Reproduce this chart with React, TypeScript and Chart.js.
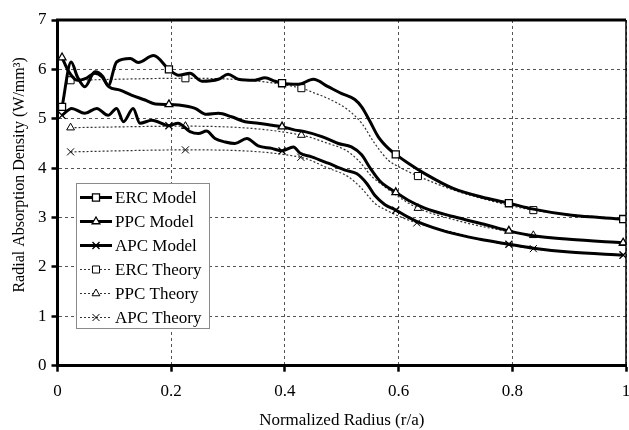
import React, { useEffect, useRef } from "react";
import { Chart, registerables } from "chart.js";

Chart.register(...registerables);

// ---------- data ----------
const ercModelX = [0.008, 0.024, 0.035, 0.048, 0.066, 0.08, 0.089, 0.104, 0.128, 0.142, 0.169, 0.196, 0.213, 0.233, 0.254, 0.283, 0.3, 0.318, 0.347, 0.365, 0.383, 0.395, 0.424, 0.45, 0.476, 0.5, 0.523, 0.535, 0.55, 0.564, 0.582, 0.595, 0.617, 0.646, 0.696, 0.755, 0.794, 0.837, 0.901, 0.995];
const ercModelY = [5.24, 6.15, 5.85, 5.65, 5.95, 5.85, 5.67, 6.15, 6.22, 6.14, 6.28, 6.0, 5.88, 5.92, 5.76, 5.8, 5.9, 5.8, 5.78, 5.83, 5.76, 5.72, 5.7, 5.8, 5.65, 5.51, 5.39, 5.24, 4.94, 4.64, 4.4, 4.28, 4.1, 3.89, 3.59, 3.39, 3.29, 3.17, 3.05, 2.97];

const ppcModelX = [0.008, 0.02, 0.035, 0.05, 0.066, 0.078, 0.09, 0.11, 0.13, 0.154, 0.172, 0.196, 0.212, 0.242, 0.262, 0.283, 0.306, 0.33, 0.353, 0.377, 0.395, 0.418, 0.435, 0.465, 0.494, 0.517, 0.535, 0.55, 0.567, 0.595, 0.617, 0.646, 0.696, 0.755, 0.794, 0.837, 0.9, 0.995];
const ppcModelY = [6.24, 5.95, 5.78, 5.82, 5.92, 5.85, 5.65, 5.58, 5.48, 5.38, 5.3, 5.29, 5.28, 5.21, 5.09, 5.11, 5.04, 4.94, 4.91, 4.87, 4.84, 4.77, 4.74, 4.64, 4.5, 4.43, 4.27, 4.0, 3.74, 3.51, 3.35, 3.19, 3.02, 2.85, 2.73, 2.63, 2.56, 2.49];

const apcModelX = [0.008, 0.025, 0.048, 0.069, 0.089, 0.104, 0.116, 0.133, 0.145, 0.166, 0.196, 0.212, 0.233, 0.248, 0.262, 0.277, 0.295, 0.312, 0.333, 0.353, 0.377, 0.395, 0.415, 0.427, 0.447, 0.476, 0.506, 0.526, 0.544, 0.558, 0.576, 0.595, 0.615, 0.636, 0.685, 0.743, 0.794, 0.837, 0.9, 0.995];
const apcModelY = [5.07, 5.21, 5.11, 5.21, 5.07, 5.21, 4.94, 5.21, 4.91, 4.97, 4.86, 4.91, 4.74, 4.7, 4.75, 4.6, 4.53, 4.5, 4.6, 4.45, 4.4, 4.35, 4.43, 4.3, 4.23, 4.1, 3.96, 3.89, 3.69, 3.45, 3.26, 3.15, 3.02, 2.9, 2.71, 2.56, 2.46, 2.38, 2.3, 2.24];

const ercTheoryX = [0.023, 0.225, 0.429, 0.45, 0.476, 0.511, 0.535, 0.558, 0.582, 0.605, 0.634, 0.696, 0.755, 0.837, 0.995];
const ercTheoryY = [5.78, 5.82, 5.62, 5.53, 5.41, 5.18, 4.91, 4.5, 4.16, 4.0, 3.84, 3.56, 3.36, 3.15, 2.97];

const ppcTheoryX = [0.023, 0.225, 0.429, 0.476, 0.506, 0.529, 0.553, 0.576, 0.6, 0.634, 0.696, 0.755, 0.837, 0.995];
const ppcTheoryY = [4.82, 4.85, 4.67, 4.5, 4.37, 4.16, 3.83, 3.62, 3.42, 3.19, 2.96, 2.8, 2.64, 2.48];

const apcTheoryX = [0.023, 0.225, 0.428, 0.476, 0.511, 0.535, 0.558, 0.58, 0.6, 0.632, 0.696, 0.755, 0.837, 0.995];
const apcTheoryY = [4.33, 4.37, 4.22, 4.0, 3.83, 3.59, 3.29, 3.14, 3.03, 2.89, 2.7, 2.53, 2.37, 2.24];

// positions where the original plot shows a marker on each curve
const modelMarkerX = [0.008, 0.196, 0.395, 0.595, 0.794, 0.995];
const theoryMarkerX = [0.023, 0.225, 0.429, 0.634, 0.837, 0.995];

const seriesLabels = ["ERC Model", "PPC Model", "APC Model", "ERC Theory", "PPC Theory", "APC Theory"];
const xTickValues = [0, 0.2, 0.4, 0.6, 0.8, 1];
const yTickValues = [0, 1, 2, 3, 4, 5, 6, 7];
const xAxisTitle = "Normalized Radius (r/a)";
const yAxisTitle = "Radial Absorption Density (W/mm\u00B3)";

// ---------- styling ----------
const FONT = "'Liberation Serif', 'Times New Roman', serif";

function toPoints(xs: number[], ys: number[]) {
  return xs.map((x, i) => ({ x, y: ys[i] }));
}

function markerRadius(markers: number[], r: number) {
  return (ctx: any) => {
    const raw = ctx.raw;
    if (!raw) return 0;
    return markers.some((m) => Math.abs(m - raw.x) < 0.004) ? r : 0;
  };
}

function drawMarker(ctx: CanvasRenderingContext2D, style: string, x: number, y: number, r: number, bw: number) {
  ctx.save();
  ctx.setLineDash([]);
  ctx.lineWidth = bw;
  ctx.strokeStyle = "#000";
  ctx.fillStyle = "#fff";
  ctx.beginPath();
  if (style === "rect") {
    const s = r * Math.SQRT1_2;
    ctx.rect(x - s, y - s, 2 * s, 2 * s);
    ctx.fill();
    ctx.stroke();
  } else if (style === "triangle") {
    let rad = 0;
    ctx.moveTo(x + Math.sin(rad) * r, y - Math.cos(rad) * r);
    rad += (2 * Math.PI) / 3;
    ctx.lineTo(x + Math.sin(rad) * r, y - Math.cos(rad) * r);
    rad += (2 * Math.PI) / 3;
    ctx.lineTo(x + Math.sin(rad) * r, y - Math.cos(rad) * r);
    ctx.closePath();
    ctx.fill();
    ctx.stroke();
  } else {
    const o = r * Math.SQRT1_2;
    ctx.moveTo(x - o, y - o);
    ctx.lineTo(x + o, y + o);
    ctx.moveTo(x + o, y - o);
    ctx.lineTo(x - o, y + o);
    ctx.stroke();
  }
  ctx.restore();
}

const framePlugin = {
  id: "frameAndLegend",
  afterDraw(chart: any) {
    const { ctx, chartArea: a } = chart;
    ctx.save();
    ctx.strokeStyle = "#000";
    ctx.setLineDash([]);
    ctx.lineWidth = 3;
    ctx.beginPath();
    ctx.moveTo(a.left - 1.5, a.top);
    ctx.lineTo(a.right, a.top);
    ctx.stroke();
    ctx.lineWidth = 1.5;
    ctx.beginPath();
    ctx.moveTo(a.right, a.top);
    ctx.lineTo(a.right, a.bottom);
    ctx.stroke();

    // legend box
    const bx = 76, by = 183, bw = 133, bh = 145;
    ctx.fillStyle = "#fff";
    ctx.fillRect(bx, by, bw, bh);
    ctx.strokeStyle = "#8a8a8a";
    ctx.lineWidth = 1;
    ctx.strokeRect(bx + 0.5, by + 0.5, bw, bh);

    const datasets = chart.data.datasets;
    datasets.forEach((ds: any, i: number) => {
      const y = 197.5 + i * 24;
      ctx.save();
      ctx.strokeStyle = ds.borderColor;
      ctx.lineWidth = ds.borderWidth;
      ctx.setLineDash(ds.borderDash || []);
      ctx.beginPath();
      ctx.moveTo(80, y);
      ctx.lineTo(112, y);
      ctx.stroke();
      ctx.restore();
      drawMarker(ctx, ds.pointStyle, 96, y, ds.legendMarkerRadius, ds.pointBorderWidth);
      ctx.fillStyle = "#000";
      ctx.font = `17px ${FONT}`;
      ctx.textAlign = "left";
      ctx.textBaseline = "middle";
      ctx.fillText(ds.label, 115, y + 1);
    });
    ctx.restore();
  },
};

function modelDataset(label: string, xs: number[], ys: number[], style: string, r: number) {
  return {
    label,
    data: toPoints(xs, ys),
    borderColor: "#000",
    borderWidth: 3,
    borderDash: [],
    cubicInterpolationMode: "monotone",
    pointStyle: style,
    pointRadius: markerRadius(modelMarkerX, r),
    legendMarkerRadius: r,
    pointBorderWidth: 1.3,
    pointBorderColor: "#000",
    pointBackgroundColor: "#fff",
    order: 1,
  };
}

function theoryDataset(label: string, xs: number[], ys: number[], style: string, r: number) {
  return {
    label,
    data: toPoints(xs, ys),
    borderColor: "#333",
    borderWidth: 1.2,
    borderDash: [2, 2],
    cubicInterpolationMode: "monotone",
    pointStyle: style,
    pointRadius: markerRadius(theoryMarkerX, r),
    legendMarkerRadius: r,
    pointBorderWidth: 1,
    pointBorderColor: "#000",
    pointBackgroundColor: "#fff",
    order: 2,
  };
}

export default function App() {
  const canvasRef = useRef<HTMLCanvasElement | null>(null);

  useEffect(() => {
    if (!canvasRef.current) return;
    const chart = new Chart(canvasRef.current, {
      type: "line",
      data: {
        datasets: [
          modelDataset(seriesLabels[0], ercModelX, ercModelY, "rect", 5),
          modelDataset(seriesLabels[1], ppcModelX, ppcModelY, "triangle", 4.5),
          modelDataset(seriesLabels[2], apcModelX, apcModelY, "crossRot", 5),
          theoryDataset(seriesLabels[3], ercTheoryX, ercTheoryY, "rect", 5),
          theoryDataset(seriesLabels[4], ppcTheoryX, ppcTheoryY, "triangle", 4.5),
          theoryDataset(seriesLabels[5], apcTheoryX, apcTheoryY, "crossRot", 5),
        ] as any,
      },
      options: {
        responsive: false,
        animation: false,
        devicePixelRatio: 1,
        layout: { autoPadding: false, padding: { top: 20, right: 3, left: 0, bottom: 0 } },
        plugins: {
          legend: { display: false },
          tooltip: { enabled: false },
        },
        scales: {
          x: {
            type: "linear",
            min: 0,
            max: 1,
            afterFit: (s: any) => {
              s.height = 64.3;
              s.paddingLeft = 0;
              s.paddingRight = 0;
            },
            afterBuildTicks: (s: any) => {
              s.ticks = xTickValues.map((v) => ({ value: v }));
            },
            ticks: {
              color: "#000",
              font: { family: FONT, size: 17 },
              padding: 10,
              maxRotation: 0,
              callback: (v: any) => String(Math.round(Number(v) * 10) / 10),
            },
            grid: {
              color: "#555",
              lineWidth: 1,
              drawTicks: true,
              tickLength: 6,
              tickColor: "#000",
              tickWidth: 2.5,
            },
            border: { display: true, color: "#000", width: 3, dash: [3, 3] },
            title: {
              display: true,
              text: xAxisTitle,
              color: "#000",
              font: { family: FONT, size: 17, lineHeight: 1.1 },
              padding: { top: 0, bottom: 0 },
            },
          },
          y: {
            type: "linear",
            min: 0,
            max: 7,
            afterFit: (s: any) => {
              s.width = 57.5;
              s.paddingTop = 0;
              s.paddingBottom = 0;
            },
            afterBuildTicks: (s: any) => {
              s.ticks = yTickValues.map((v) => ({ value: v }));
            },
            ticks: {
              color: "#000",
              font: { family: FONT, size: 17 },
              padding: 5,
              callback: (v: any) => String(v),
            },
            grid: {
              color: "#555",
              lineWidth: 1,
              drawTicks: true,
              tickLength: 6,
              tickColor: "#000",
              tickWidth: 2.5,
            },
            border: { display: true, color: "#000", width: 3, dash: [3, 3] },
            title: {
              display: true,
              text: "         " + yAxisTitle,
              color: "#000",
              font: { family: FONT, size: 16, lineHeight: 1.2 },
              padding: { top: 10, bottom: 0 },
            },
          },
        },
      } as any,
      plugins: [framePlugin],
    });
    return () => chart.destroy();
  }, []);

  return (
    <div style={{ position: "fixed", left: 0, top: 0, width: 629, height: 430, background: "#fff" }}>
      <canvas ref={canvasRef} width={629} height={430} />
    </div>
  );
}
